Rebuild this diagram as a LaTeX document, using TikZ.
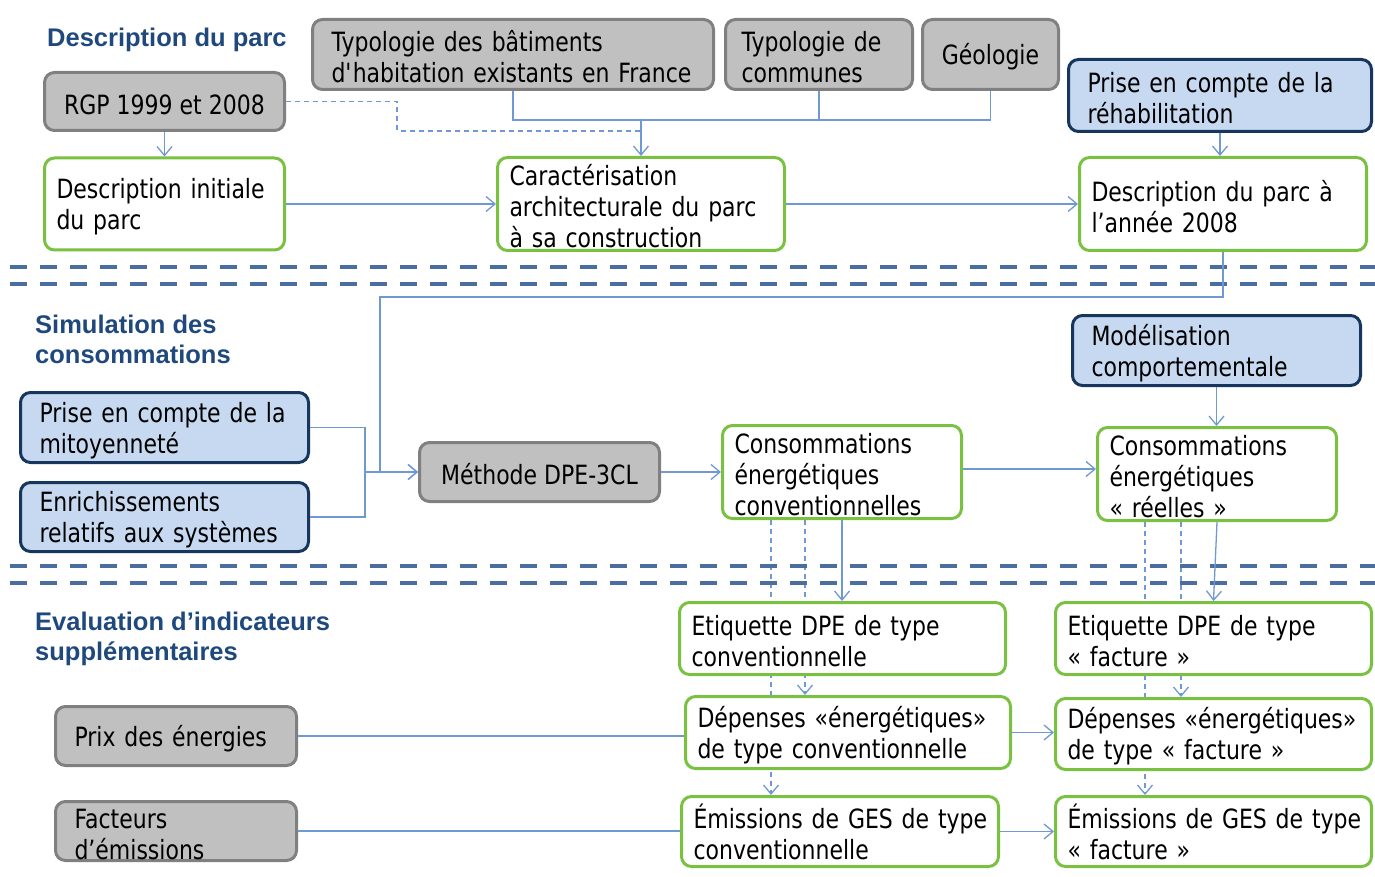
\documentclass[tikz,border=0pt]{standalone}
\usepackage{fontspec}
\setmainfont{DejaVu Sans}[FakeStretch=0.83]
\newfontfamily\titrefont{Liberation Sans}
\usetikzlibrary{arrows.meta,positioning,backgrounds}

\definecolor{grisfond}{RGB}{192,192,192}
\definecolor{grisbord}{RGB}{128,128,128}
\definecolor{vertbord}{RGB}{122,193,66}
\definecolor{bleufond}{RGB}{198,217,241}
\definecolor{bleubord}{RGB}{23,54,93}
\definecolor{lienbleu}{RGB}{112,152,212}
\definecolor{sepbleu}{RGB}{74,110,160}
\definecolor{titrebleu}{RGB}{31,73,125}

\begin{document}
\begin{tikzpicture}[x=1pt,y=-1pt,
  boite/.style = {rounded corners=10pt, line width=3pt, align=left, inner ysep=0pt,
    text height=26pt, font=\fontsize{26.5}{31}\selectfont},
  gris/.style = {boite, draw=grisbord, fill=grisfond, inner xsep=19pt},
  vert/.style = {boite, draw=vertbord, fill=white, inner xsep=12pt},
  bleu/.style = {boite, draw=bleubord, fill=bleufond, inner xsep=19pt},
  titre/.style = {anchor=west, inner sep=0pt, align=left, text=titrebleu,
    font=\titrefont\bfseries\fontsize{25.5}{30}\selectfont},
  lien/.style = {draw=lienbleu, line width=1.3pt},
  fleche/.style = {lien, -{Straight Barb[length=9pt,width=15pt]}},
  tirets/.style = {dash pattern=on 5pt off 4pt},
  separ/.style = {draw=sepbleu, line width=3.5pt, dash pattern=on 17pt off 13pt}]
\useasboundingbox (0,0) rectangle (1375,877);

% description du parc
\node[titre] (t1) at (47,40) {Description du parc};
\node[gris, minimum width=240pt, minimum height=58pt, align=center] (rgp) at (164.5,101.5) {RGP 1999 et 2008};
\node[gris, text width=363pt, minimum height=70pt] (typbat) at (513,54.5) {Typologie des bâtiments\\d\textquotesingle habitation existants en France};
\node[gris, inner xsep=16pt, text width=155pt, minimum height=70pt] (typcom) at (819,54.5) {Typologie de\\communes};
\node[gris, inner xsep=0pt, minimum width=136pt, minimum height=70pt, align=center] (geol) at (990.5,54.5) {Géologie};
\node[bleu, text width=265pt, minimum height=72pt] (rehab) at (1220,95.5) {Prise en compte de la\\réhabilitation};
\node[vert, text width=216pt, minimum height=92pt] (init) at (164.5,204) {Description initiale\\du parc};
\node[vert, text width=263pt, minimum height=93pt] (carac) at (641,204) {Caractérisation\\architecturale du parc\\à sa construction};
\node[vert, text width=263pt, minimum height=93pt] (parc08) at (1223,204) {Description du parc à\\l’année 2008};

% simulation des consommations
\node[titre] (t2) at (35,339) {Simulation des\\consommations};
\node[bleu, text width=250pt, minimum height=70pt] (mitoy) at (164.5,427.5) {Prise en compte de la\\mitoyenneté};
\node[bleu, text width=250pt, minimum height=69pt] (enrich) at (164.5,517) {Enrichissements\\relatifs aux systèmes};
\node[gris, minimum width=240pt, minimum height=59pt, align=center] (dpe) at (539.5,472) {Méthode DPE-3CL};
\node[vert, text width=215pt, minimum height=93pt] (convc) at (842,472) {Consommations\\énergétiques\\conventionnelles};
\node[bleu, text width=250pt, minimum height=70pt] (modele) at (1216.5,350.5) {Modélisation\\comportementale};
\node[vert, text width=215pt, minimum height=93pt] (reelc) at (1217,474) {Consommations\\énergétiques\\«~réelles~»};

% indicateurs
\node[titre] (t3) at (35,638.5) {Evaluation d’indicateurs\\supplémentaires};
\node[vert, text width=302pt, minimum height=72pt] (etiqconv) at (842.5,638.5) {Etiquette DPE de type\\conventionnelle};
\node[vert, text width=292pt, minimum height=72pt] (etiqfact) at (1213.5,638.5) {Etiquette DPE de type\\«~facture~»};
\node[vert, text width=301pt, minimum height=72pt] (depconv) at (848,732.5) {\mbox{Dépenses «énergétiques»}\\de type conventionnelle};
\node[vert, text width=292pt, minimum height=71pt] (depfact) at (1213.5,734) {\mbox{Dépenses «énergétiques»}\\de type «~facture~»};
\node[vert, text width=293pt, minimum height=70pt] (emiconv) at (840,831.5) {\mbox{Émissions de GES de type}\\conventionnelle};
\node[vert, text width=292pt, minimum height=70pt] (emifact) at (1213.5,831.5) {\mbox{Émissions de GES de type}\\«~facture~»};
\node[gris, text width=203pt, minimum height=59pt] (prix) at (176,736) {Prix des énergies};
\node[gris, text width=203pt, minimum height=59pt] (facteurs) at (176,831) {Facteurs\\d’émissions};

% separations
\draw[separ] (10,267) -- (1375,267);
\draw[separ] (10,284) -- (1375,284);
\draw[separ] (10,566) -- (1375,566);
\draw[separ] (10,583) -- (1375,583);

% liens
\draw[fleche] (rgp) -- (init);
\draw[fleche] (init) -- (carac);
\draw[fleche] (carac) -- (parc08);
\draw[fleche] (rehab.south) -- (rehab.south |- parc08.north);
\coordinate (jtyp) at (641,120);
\draw[lien] (typbat.south) |- (jtyp) -| (geol.south);
\draw[lien] (typcom.south) -- (typcom.south |- jtyp);
\draw[fleche] (jtyp) -- (carac.north);
\coordinate (coude) at (397,131);
\draw[lien, tirets] (rgp.east) -| (coude) -- (coude -| carac.north);

\coordinate (retour) at (380,297);
\draw[fleche] (parc08.south) |- (retour) |- (dpe.west);
\coordinate (jmit) at (365,472);
\draw[lien] (mitoy.east) -| (jmit) |- (enrich.east);
\draw[fleche] (jmit) -- (dpe.west);
\draw[fleche] (dpe) -- (convc);
\draw[fleche] ([yshift=3pt]convc.east) -- ([yshift=3pt]convc.east -| reelc.west);
\draw[fleche] (modele.south) -- (modele.south |- reelc.north);

\draw[fleche] (convc.south) -- (convc.south |- etiqconv.north);
\draw[fleche] (reelc.south) -- (etiqfact.north);
\begin{scope}[on background layer]
\draw[fleche, tirets] ([xshift=-37pt]convc.south) -- ([xshift=-37pt]convc.south |- depconv.north);
\draw[fleche, tirets] ([xshift=-71pt]convc.south) -- ([xshift=-71pt]convc.south |- emiconv.north);
\draw[fleche, tirets] ([xshift=-36pt]reelc.south) -- ([xshift=-36pt]reelc.south |- depfact.north);
\draw[fleche, tirets] ([xshift=-72pt]reelc.south) -- ([xshift=-72pt]reelc.south |- emifact.north);
\end{scope}
\draw[lien] (prix.east) -- (prix.east -| depconv.west);
\draw[lien] (facteurs.east) -- (facteurs.east -| emiconv.west);
\draw[fleche] (depconv.east) -- (depconv.east -| depfact.west);
\draw[fleche] (emiconv) -- (emifact);
\end{tikzpicture}
\end{document}
